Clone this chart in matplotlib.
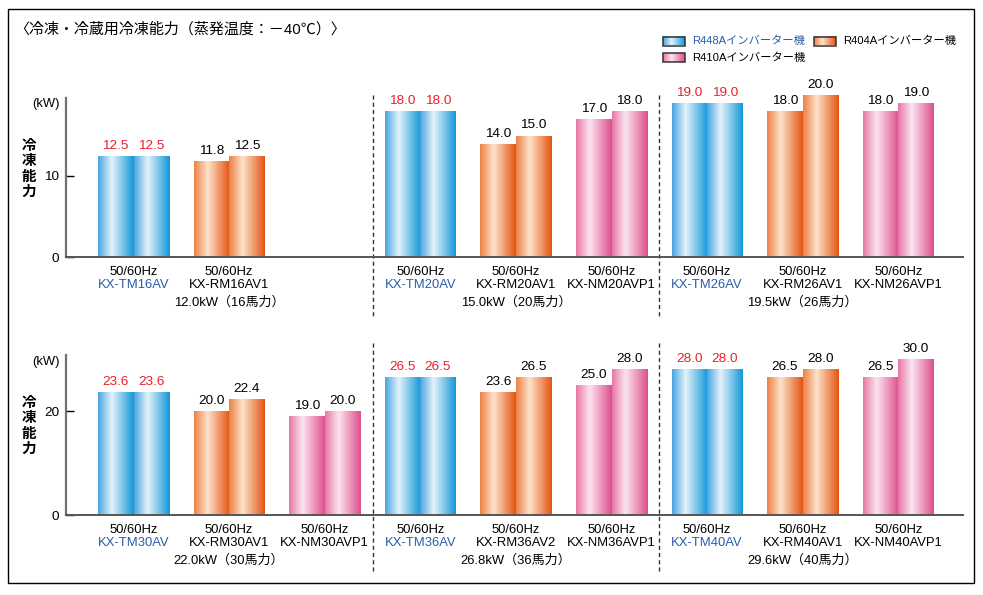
import numpy as np
import matplotlib
matplotlib.use("Agg")
import matplotlib.pyplot as plt
from matplotlib.patches import Rectangle

plt.rcParams['font.family'] = ['Liberation Sans', 'Noto Sans CJK JP', 'DejaVu Sans']

# ---------------- data ----------------
title = "〈冷凍・冷蔵用冷凍能力（蒸発温度：－40℃）〉"
series_names = ["R448Aインバーター機", "R404Aインバーター機", "R410Aインバーター機"]
freq_label = "50/60Hz"
y_unit = "(kW)"
y_label = "冷凍能力"

top_models = ["KX-TM16AV", "KX-RM16AV1", None,
              "KX-TM20AV", "KX-RM20AV1", "KX-NM20AVP1",
              "KX-TM26AV", "KX-RM26AV1", "KX-NM26AVP1"]
top_types = [0, 1, None, 0, 1, 2, 0, 1, 2]
top_50hz = [12.5, 11.8, None, 18.0, 14.0, 17.0, 19.0, 18.0, 18.0]
top_60hz = [12.5, 12.5, None, 18.0, 15.0, 18.0, 19.0, 20.0, 19.0]
top_groups = ["12.0kW（16馬力）", "15.0kW（20馬力）", "19.5kW（26馬力）"]
top_ticks = [0, 10]

bot_models = ["KX-TM30AV", "KX-RM30AV1", "KX-NM30AVP1",
              "KX-TM36AV", "KX-RM36AV2", "KX-NM36AVP1",
              "KX-TM40AV", "KX-RM40AV1", "KX-NM40AVP1"]
bot_types = [0, 1, 2, 0, 1, 2, 0, 1, 2]
bot_50hz = [23.6, 20.0, 19.0, 26.5, 23.6, 25.0, 28.0, 26.5, 26.5]
bot_60hz = [23.6, 22.4, 20.0, 26.5, 26.5, 28.0, 28.0, 28.0, 30.0]
bot_groups = ["22.0kW（30馬力）", "26.8kW（36馬力）", "29.6kW（40馬力）"]
bot_ticks = [0, 20]

# ---------------- style ----------------
W, H, DPI = 983, 595, 100
grad_stops = {
    0: [(0.0, (70, 165, 225)), (0.38, (228, 242, 251)), (1.0, (18, 152, 215))],
    1: [(0.0, (238, 128, 68)), (0.38, (253, 226, 202)), (1.0, (228, 84, 18))],
    2: [(0.0, (232, 118, 165)), (0.38, (252, 228, 240)), (1.0, (222, 78, 140))],
}
blue_text = "#2a5caa"
red_text = "#e8202a"
FS = 9.4


def gradient(t):
    stops = grad_stops[t]
    xs = np.linspace(0, 1, 256)
    pos = [s[0] for s in stops]
    arr = np.zeros((1, 256, 3))
    for c in range(3):
        arr[0, :, c] = np.interp(xs, pos, [s[1][c] / 255 for s in stops])
    return arr


fig = plt.figure(figsize=(W / DPI, H / DPI), dpi=DPI)

bw = 35.5 / 95.6
xlim = ((66 - 133.5) / 95.6, (963 - 133.5) / 95.6)


def fy(p):
    return 1 - p / H


def make_panel(base_px, top_px, px_per_unit, spine_top_px, models, types, v50, v60,
               groups, ticks, dash_top_px, dash_bot_px):
    ax = fig.add_axes([66 / W, fy(base_px), (963 - 66) / W, (base_px - top_px) / H])
    ymax = (base_px - top_px) / px_per_unit
    for i, m in enumerate(models):
        if m is None:
            continue
        t = types[i]
        vals = [v50[i], v60[i]]
        xs = [i - bw / 2, i + bw / 2]
        bars = ax.bar(xs, vals, width=bw, color='none', edgecolor='none', zorder=2)
        for patch, v, x in zip(bars.patches, vals, xs):
            im = ax.imshow(gradient(t), extent=(x - bw / 2, x + bw / 2, 0, v),
                           aspect='auto', interpolation='bilinear', zorder=2)
            im.set_clip_path(patch)
            ax.annotate(f"{v:.1f}", xy=(x, v), xytext=(0, 4), textcoords='offset pixels',
                        ha='center', va='bottom', fontsize=FS + 0.3,
                        color=red_text if t == 0 else 'black', zorder=4,
                        bbox=dict(boxstyle='square,pad=0.05', fc='white', ec='none'))
        tr = ax.get_xaxis_transform()
        ax.annotate(freq_label, xy=(i, 0), xycoords=tr, xytext=(0, -15),
                    textcoords='offset pixels', ha='center', va='center', fontsize=FS)
        ax.annotate(m, xy=(i, 0), xycoords=tr, xytext=(0, -28),
                    textcoords='offset pixels', ha='center', va='center', fontsize=FS,
                    color=blue_text if t == 0 else 'black')
    tr = ax.get_xaxis_transform()
    for g, lab in enumerate(groups):
        ax.annotate(lab, xy=(3 * g + 1, 0), xycoords=tr, xytext=(0, -46),
                    textcoords='offset pixels', ha='center', va='center', fontsize=FS)
    hgt = base_px - top_px
    for xd in [2.5, 5.5]:
        ax.plot([xd, xd], [(base_px - dash_top_px) / hgt, (base_px - dash_bot_px) / hgt],
                transform=tr, clip_on=False, color='#333333', lw=1.0,
                linestyle=(0, (3, 2.2)), zorder=1)
    ax.set_xlim(*xlim)
    ax.set_ylim(0, ymax)
    for s in ['top', 'right']:
        ax.spines[s].set_visible(False)
    ax.spines['left'].set_bounds(0, (base_px - spine_top_px) / px_per_unit)
    ax.spines['left'].set_color('#707070')
    ax.spines['left'].set_linewidth(1.6)
    ax.spines['bottom'].set_color('#555555')
    ax.spines['bottom'].set_linewidth(1.4)
    ax.set_xticks([])
    ax.set_yticks(ticks)
    ax.set_yticklabels([str(t) for t in ticks])
    ax.tick_params(axis='y', direction='in', length=6, width=1, color='black',
                   pad=5, labelsize=FS + 0.3)
    ax.patch.set_visible(False)
    return ax


make_panel(257, 90, 8.1, 98, top_models, top_types, top_50hz, top_60hz,
           top_groups, top_ticks, 95, 318)
make_panel(515, 345, 5.2, 355, bot_models, bot_types, bot_50hz, bot_60hz,
           bot_groups, bot_ticks, 343, 573)

# overlay in pixel coordinates
ov = fig.add_axes([0, 0, 1, 1])
ov.set_xlim(0, W)
ov.set_ylim(H, 0)
ov.axis('off')
ov.patch.set_visible(False)

ov.add_patch(Rectangle((8, 9), 966, 574, fill=False, ec='black', lw=1.0))
ov.text(14, 29, title, fontsize=10.8, ha='left', va='center')

legend_pos = [(663, 41), (814, 41), (663, 57.5)]
for k, (name, (lx, ly)) in enumerate(zip(series_names, legend_pos)):
    im = ov.imshow(gradient(k), extent=(lx, lx + 22, ly + 4.5, ly - 4.5),
                   aspect='auto', interpolation='bilinear', zorder=3)
    ov.add_patch(Rectangle((lx, ly - 4.5), 22, 9, fill=False, ec='#333333', lw=1.1, zorder=4))
    ov.text(lx + 29, ly, name, fontsize=8.1, ha='left', va='center',
            color=blue_text if k == 0 else 'black')
ov.set_xlim(0, W)
ov.set_ylim(H, 0)

for yc_unit, yc_lab in [(104, 169), (362, 426)]:
    ov.text(46, yc_unit, y_unit, fontsize=FS, ha='center', va='center')
    ov.text(29, yc_lab, "\n".join(y_label), fontsize=10.5, ha='center', va='center',
            fontweight='bold', linespacing=1.1)

fig.savefig("out.png", dpi=DPI)
